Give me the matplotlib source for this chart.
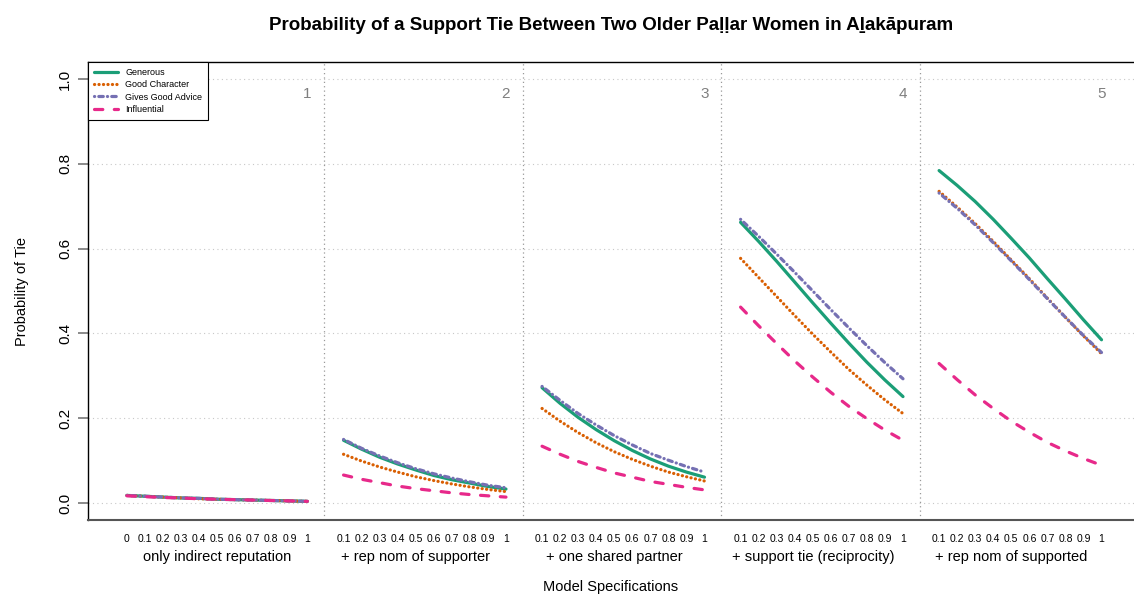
import numpy as np
import matplotlib.pyplot as plt

plt.rcParams['font.family'] = ['Liberation Sans', 'DejaVu Sans']

# data
panel_names = ['only indirect reputation', '+ rep nom of supporter', '+ one shared partner',
               '+ support tie (reciprocity)', '+ rep nom of supported']
levels_first = [0, 0.1, 0.2, 0.3, 0.4, 0.5, 0.6, 0.7, 0.8, 0.9, 1]
levels_rest = [0.1, 0.2, 0.3, 0.4, 0.5, 0.6, 0.7, 0.8, 0.9, 1]
level_labels_first = ['0', '0.1', '0.2', '0.3', '0.4', '0.5', '0.6', '0.7', '0.8', '0.9', '1']
level_labels_rest = ['0.1', '0.2', '0.3', '0.4', '0.5', '0.6', '0.7', '0.8', '0.9', '1']

series_names = ['Generous', 'Good Character', 'Gives Good Advice', 'Influential']
colors = ['#1B9E77', '#D95F02', '#7570B3', '#E7298A']

generous = [
    [0.018, 0.016, 0.014, 0.012, 0.011, 0.009, 0.008, 0.007, 0.006, 0.005, 0.004],
    [0.148, 0.127, 0.108, 0.092, 0.078, 0.065, 0.055, 0.047, 0.039, 0.033],
    [0.272, 0.235, 0.202, 0.173, 0.147, 0.124, 0.104, 0.087, 0.073, 0.061],
    [0.662, 0.617, 0.570, 0.521, 0.472, 0.424, 0.377, 0.332, 0.290, 0.251],
    [0.784, 0.749, 0.711, 0.669, 0.624, 0.578, 0.529, 0.481, 0.432, 0.385],
]
good_character = [
    [0.018, 0.016, 0.014, 0.012, 0.010, 0.009, 0.008, 0.007, 0.006, 0.005, 0.004],
    [0.115, 0.099, 0.085, 0.073, 0.062, 0.053, 0.045, 0.038, 0.032, 0.027],
    [0.223, 0.193, 0.166, 0.142, 0.121, 0.103, 0.087, 0.073, 0.062, 0.052],
    [0.577, 0.532, 0.487, 0.442, 0.398, 0.356, 0.315, 0.278, 0.243, 0.211],
    [0.735, 0.698, 0.659, 0.617, 0.573, 0.529, 0.483, 0.438, 0.394, 0.352],
]
good_advice = [
    [0.018, 0.016, 0.014, 0.012, 0.011, 0.009, 0.008, 0.007, 0.006, 0.005, 0.004],
    [0.150, 0.129, 0.111, 0.095, 0.081, 0.069, 0.059, 0.050, 0.042, 0.036],
    [0.275, 0.242, 0.211, 0.184, 0.159, 0.137, 0.117, 0.101, 0.086, 0.073],
    [0.669, 0.629, 0.587, 0.544, 0.500, 0.456, 0.413, 0.371, 0.331, 0.293],
    [0.731, 0.695, 0.656, 0.614, 0.571, 0.527, 0.482, 0.438, 0.395, 0.355],
]
influential = [
    [0.017, 0.015, 0.013, 0.012, 0.010, 0.009, 0.008, 0.007, 0.006, 0.005, 0.004],
    [0.066, 0.056, 0.048, 0.040, 0.034, 0.029, 0.024, 0.020, 0.017, 0.014],
    [0.134, 0.115, 0.098, 0.084, 0.071, 0.061, 0.051, 0.044, 0.037, 0.031],
    [0.462, 0.418, 0.376, 0.335, 0.297, 0.261, 0.228, 0.199, 0.172, 0.148],
    [0.329, 0.291, 0.255, 0.223, 0.193, 0.167, 0.143, 0.123, 0.105, 0.089],
]
all_series = [generous, good_character, good_advice, influential]

styles = [dict(linestyle='-'),
          dict(linestyle=(0, (0.05, 1.35))),
          dict(linestyle=(0, (0.05, 1.3, 1.4, 1.3))),
          dict(linestyle=(0, (2.6, 3.6)))]

gap = 1.1

fig = plt.figure(figsize=(11.34, 6.01), dpi=100)
ax = fig.add_axes([88 / 1134, 81 / 601, 1 - 88 / 1134, 458 / 601])

# grid + panel separators
for yv in [0, 0.2, 0.4, 0.6, 0.8, 1.0]:
    ax.axhline(yv, color='#c8c8c8', lw=0.8, ls=(0, (1, 3)), zorder=0)
for k in range(1, 5):
    ax.axvline(k * gap - 0.008, color='#999999', lw=0.9, ls=(0, (1, 2.5)), zorder=0)

xticks, xlabels = [], []
for k in range(5):
    lv = levels_first if k == 0 else levels_rest
    lab = level_labels_first if k == 0 else level_labels_rest
    x = np.array(lv) + k * gap
    xticks += list(x)
    xlabels += lab
    for s in range(4):
        ax.plot(x, all_series[s][k], color=colors[s], lw=2.3,
                solid_capstyle='round', dash_capstyle='round',
                label=series_names[s] if k == 0 else None, **styles[s])
    ax.text(k * gap + 1.0, 0.965, str(k + 1), ha='center', va='center',
            color='#7f7f7f', fontsize=11)
    ax.annotate(panel_names[k], xy=(k * gap + 0.5, 0), xycoords=('data', 'axes fraction'),
                xytext=(0, -27), textcoords='offset points', ha='center', va='center',
                fontsize=10.5)

ax.set_xlim(-0.216, 5.58)
ax.set_ylim(-0.04, 1.04)
ax.set_xticks(xticks)
ax.set_xticklabels(xlabels, fontsize=7.5)
ax.tick_params(axis='x', length=0, pad=10)
ax.set_yticks([0, 0.2, 0.4, 0.6, 0.8, 1.0])
ax.set_yticklabels(['0.0', '0.2', '0.4', '0.6', '0.8', '1.0'], fontsize=11,
                   rotation=90, va='center')
ax.tick_params(axis='y', length=7.5, width=1.2, color='#777777', pad=4)

ax.spines['right'].set_visible(False)
ax.spines['bottom'].set_color('#555555')
ax.spines['bottom'].set_linewidth(1.5)
ax.spines['left'].set_linewidth(1.0)
ax.spines['top'].set_linewidth(1.0)

ax.set_xlabel('Model Specifications', fontsize=10.5, labelpad=26)
ax.set_ylabel('Probability of Tie', fontsize=10.5, labelpad=21)

leg = ax.legend(loc='upper left', bbox_to_anchor=(0, 1), borderaxespad=0,
                fontsize=6.5, fancybox=False, framealpha=1, edgecolor='black',
                handlelength=2.6, labelspacing=0.35, borderpad=0.7, handletextpad=0.8)
leg.get_frame().set_linewidth(0.8)

fig.text(611 / 1134, 1 - 26 / 601,
         'Probability of a Support Tie Between Two Older Pa\u1e37\u1e37ar Women in A\u1e3bak\u0101puram',
         ha='center', va='center', fontsize=13.5, fontweight='bold')

fig.savefig('out.png', dpi=100)
